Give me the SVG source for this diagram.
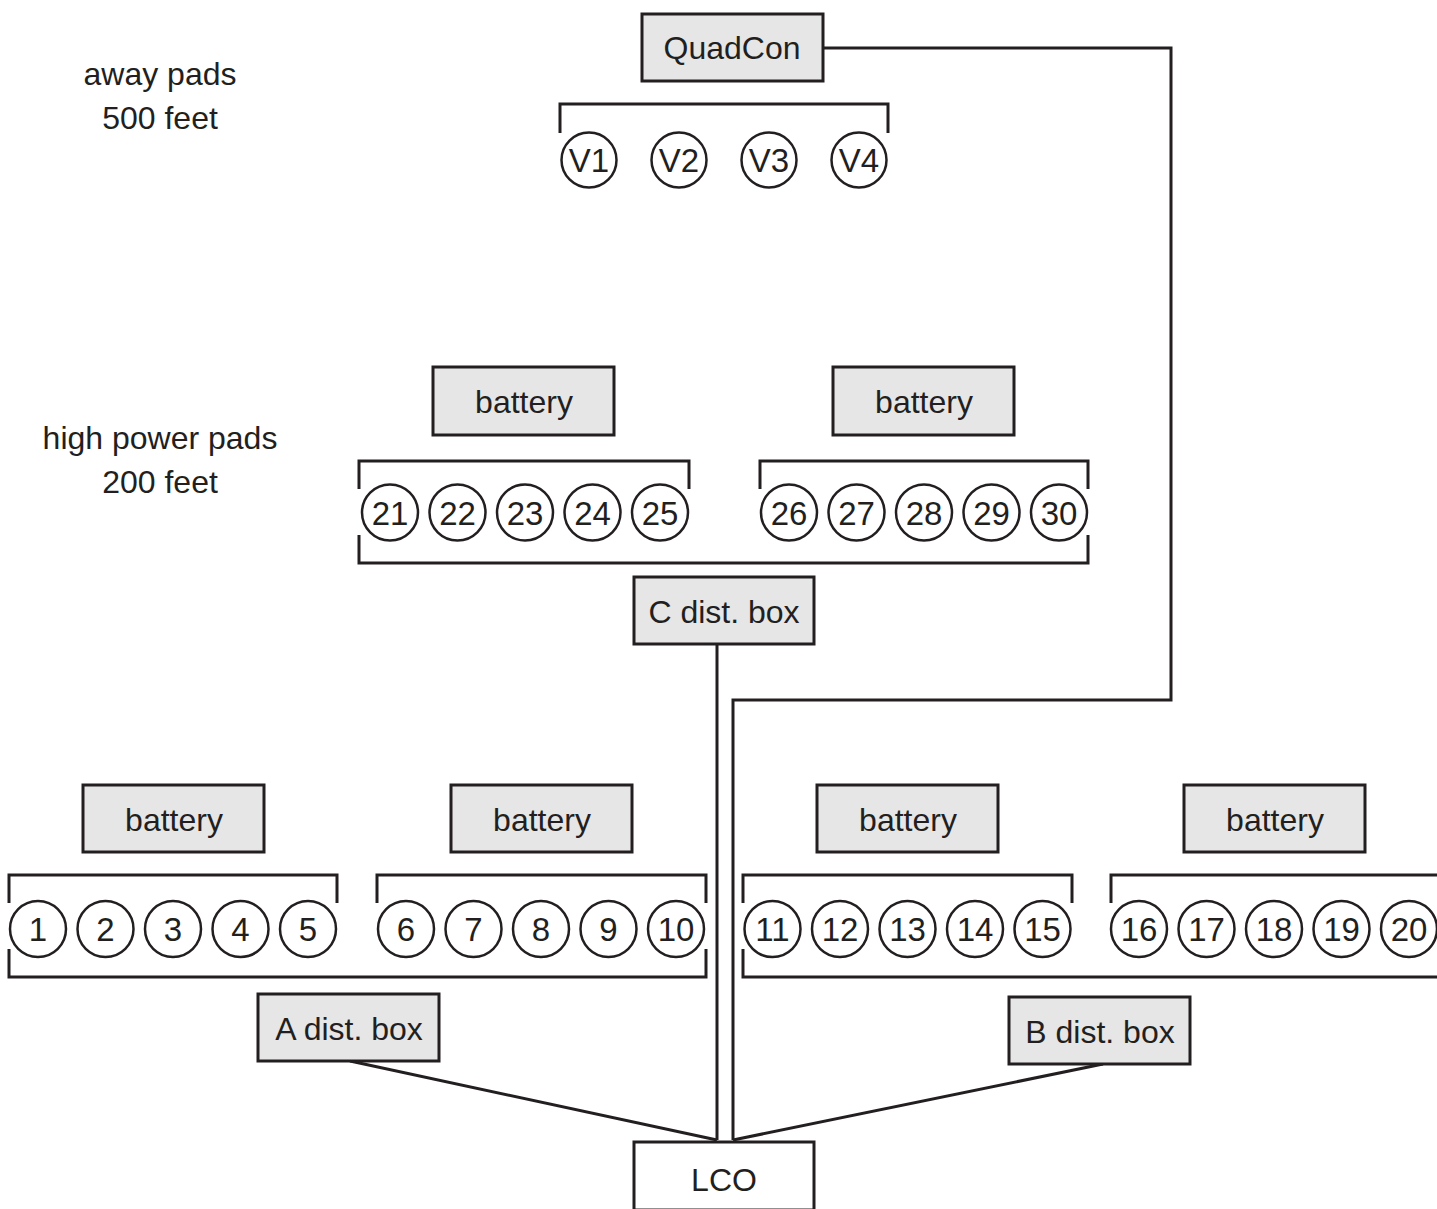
<svg xmlns="http://www.w3.org/2000/svg" width="1437" height="1209" viewBox="0 0 1437 1209">
<style>
.box{fill:#e6e6e6;stroke:#231f20;stroke-width:3}
.wbox{fill:#ffffff;stroke:#231f20;stroke-width:3}
.ln{fill:none;stroke:#231f20;stroke-width:3}
.pad{fill:#ffffff;stroke:#231f20;stroke-width:2.5}
.t{font-family:"Liberation Sans",Arial,sans-serif;font-size:32px;fill:#231f20;text-anchor:middle}
.n{font-family:"Liberation Sans",Arial,sans-serif;font-size:33px;fill:#231f20;text-anchor:middle}
</style>
<rect width="1437" height="1209" fill="#ffffff"/>
<g id="labels">
<text class="t" x="160" y="85">away pads</text>
<text class="t" x="160" y="129">500 feet</text>
<text class="t" x="160" y="449">high power pads</text>
<text class="t" x="160" y="493">200 feet</text>
</g>
<g id="connectors">
<path class="ln" d="M717 644 V1140"/>
<path class="ln" d="M823 48 H1171 V700 H733 V1140"/>
<path class="ln" d="M350 1061 L717 1140"/>
<path class="ln" d="M1103 1064 L733 1140"/>
</g>
<g id="brackets">
<path class="ln" d="M560 133 V104 H888 V133"/>
<path class="ln" d="M359 489 V461 H689 V489"/>
<path class="ln" d="M760 489 V461 H1088 V489"/>
<path class="ln" d="M359 535 V563 H1088 V535"/>
<path class="ln" d="M9 903 V875 H337 V903"/>
<path class="ln" d="M377 903 V875 H706 V903"/>
<path class="ln" d="M9 949 V977 H706 V949"/>
<path class="ln" d="M743 903 V875 H1072 V903"/>
<path class="ln" d="M1111 903 V875 H1437"/>
<path class="ln" d="M743 949 V977 H1440"/>
</g>
<g id="QuadCon"><rect class="box" x="642" y="14" width="181" height="67"/><text class="t" x="732" y="59">QuadCon</text></g>
<g id="battery-hp1"><rect class="box" x="433" y="367" width="181" height="68"/><text class="t" x="524" y="413">battery</text></g>
<g id="battery-hp2"><rect class="box" x="833" y="367" width="181" height="68"/><text class="t" x="924" y="413">battery</text></g>
<g id="C-dist"><rect class="box" x="634" y="577" width="180" height="67"/><text class="t" x="724" y="623">C dist. box</text></g>
<g id="battery-1"><rect class="box" x="83" y="785" width="181" height="67"/><text class="t" x="174" y="831">battery</text></g>
<g id="battery-2"><rect class="box" x="451" y="785" width="181" height="67"/><text class="t" x="542" y="831">battery</text></g>
<g id="battery-3"><rect class="box" x="817" y="785" width="181" height="67"/><text class="t" x="908" y="831">battery</text></g>
<g id="battery-4"><rect class="box" x="1184" y="785" width="181" height="67"/><text class="t" x="1275" y="831">battery</text></g>
<g id="A-dist"><rect class="box" x="258" y="994" width="181" height="67"/><text class="t" x="349" y="1040">A dist. box</text></g>
<g id="B-dist"><rect class="box" x="1009" y="997" width="181" height="67"/><text class="t" x="1100" y="1043">B dist. box</text></g>
<g id="LCO"><rect class="wbox" x="634" y="1142" width="180" height="68"/><text class="t" x="724" y="1191">LCO</text></g>
<g id="V1"><circle class="pad" cx="589" cy="160" r="27.5"/><text class="n" x="589" y="172">V1</text></g>
<g id="V2"><circle class="pad" cx="679" cy="160" r="27.5"/><text class="n" x="679" y="172">V2</text></g>
<g id="V3"><circle class="pad" cx="769" cy="160" r="27.5"/><text class="n" x="769" y="172">V3</text></g>
<g id="V4"><circle class="pad" cx="859" cy="160" r="27.5"/><text class="n" x="859" y="172">V4</text></g>
<g id="pad21"><circle class="pad" cx="390" cy="512.5" r="28"/><text class="n" x="390" y="524.5">21</text></g>
<g id="pad22"><circle class="pad" cx="457.5" cy="512.5" r="28"/><text class="n" x="457.5" y="524.5">22</text></g>
<g id="pad23"><circle class="pad" cx="525" cy="512.5" r="28"/><text class="n" x="525" y="524.5">23</text></g>
<g id="pad24"><circle class="pad" cx="592.5" cy="512.5" r="28"/><text class="n" x="592.5" y="524.5">24</text></g>
<g id="pad25"><circle class="pad" cx="660" cy="512.5" r="28"/><text class="n" x="660" y="524.5">25</text></g>
<g id="pad26"><circle class="pad" cx="789" cy="512.5" r="28"/><text class="n" x="789" y="524.5">26</text></g>
<g id="pad27"><circle class="pad" cx="856.5" cy="512.5" r="28"/><text class="n" x="856.5" y="524.5">27</text></g>
<g id="pad28"><circle class="pad" cx="924" cy="512.5" r="28"/><text class="n" x="924" y="524.5">28</text></g>
<g id="pad29"><circle class="pad" cx="991.5" cy="512.5" r="28"/><text class="n" x="991.5" y="524.5">29</text></g>
<g id="pad30"><circle class="pad" cx="1059" cy="512.5" r="28"/><text class="n" x="1059" y="524.5">30</text></g>
<g id="pad1"><circle class="pad" cx="38" cy="929" r="28"/><text class="n" x="38" y="941">1</text></g>
<g id="pad2"><circle class="pad" cx="105.5" cy="929" r="28"/><text class="n" x="105.5" y="941">2</text></g>
<g id="pad3"><circle class="pad" cx="173" cy="929" r="28"/><text class="n" x="173" y="941">3</text></g>
<g id="pad4"><circle class="pad" cx="240.5" cy="929" r="28"/><text class="n" x="240.5" y="941">4</text></g>
<g id="pad5"><circle class="pad" cx="308" cy="929" r="28"/><text class="n" x="308" y="941">5</text></g>
<g id="pad6"><circle class="pad" cx="406" cy="929" r="28"/><text class="n" x="406" y="941">6</text></g>
<g id="pad7"><circle class="pad" cx="473.5" cy="929" r="28"/><text class="n" x="473.5" y="941">7</text></g>
<g id="pad8"><circle class="pad" cx="541" cy="929" r="28"/><text class="n" x="541" y="941">8</text></g>
<g id="pad9"><circle class="pad" cx="608.5" cy="929" r="28"/><text class="n" x="608.5" y="941">9</text></g>
<g id="pad10"><circle class="pad" cx="676" cy="929" r="28"/><text class="n" x="676" y="941">10</text></g>
<g id="pad11"><circle class="pad" cx="772.5" cy="929" r="28"/><text class="n" x="772.5" y="941">11</text></g>
<g id="pad12"><circle class="pad" cx="840" cy="929" r="28"/><text class="n" x="840" y="941">12</text></g>
<g id="pad13"><circle class="pad" cx="907.5" cy="929" r="28"/><text class="n" x="907.5" y="941">13</text></g>
<g id="pad14"><circle class="pad" cx="975" cy="929" r="28"/><text class="n" x="975" y="941">14</text></g>
<g id="pad15"><circle class="pad" cx="1042.5" cy="929" r="28"/><text class="n" x="1042.5" y="941">15</text></g>
<g id="pad16"><circle class="pad" cx="1139" cy="929" r="28"/><text class="n" x="1139" y="941">16</text></g>
<g id="pad17"><circle class="pad" cx="1206.5" cy="929" r="28"/><text class="n" x="1206.5" y="941">17</text></g>
<g id="pad18"><circle class="pad" cx="1274" cy="929" r="28"/><text class="n" x="1274" y="941">18</text></g>
<g id="pad19"><circle class="pad" cx="1341.5" cy="929" r="28"/><text class="n" x="1341.5" y="941">19</text></g>
<g id="pad20"><circle class="pad" cx="1409" cy="929" r="28"/><text class="n" x="1409" y="941">20</text></g>
</svg>
